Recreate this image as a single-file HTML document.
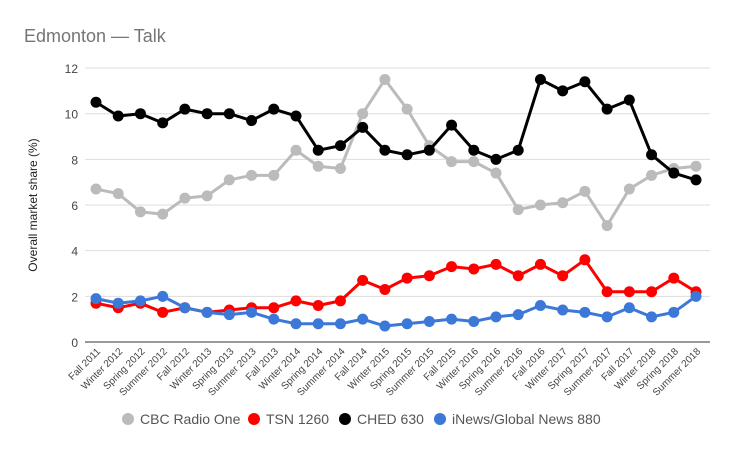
<!DOCTYPE html><html><head><style>body{margin:0;background:#fff}svg{display:block;font-family:"Liberation Sans",sans-serif}</style></head><body>
<svg id="c" width="730" height="451" xmlns="http://www.w3.org/2000/svg">
<text x="24" y="42" font-size="18" fill="#757575">Edmonton — Talk</text>
<text transform="translate(37,205) rotate(-90)" font-size="12" fill="#222" text-anchor="middle">Overall market share (%)</text>
</svg>
<script>
const s=document.getElementById('c'),NS='http://www.w3.org/2000/svg';
function el(t,a,txt){const e=document.createElementNS(NS,t);for(const k in a)e.setAttribute(k,a[k]);if(txt!=null)e.textContent=txt;s.appendChild(e);return e;}
const y=v=>342-v*22.83,x=i=>96+i*600/27;
for(let v=0;v<=12;v+=2){el('line',{x1:85,x2:710,y1:y(v),y2:y(v),stroke:v?'#ddd':'#333','stroke-width':1});el('text',{x:78,y:y(v)+5,'font-size':12,fill:'#444','text-anchor':'end'},v);}
const L=[];['2011'].forEach(()=>{});
const seasons=['Fall','Winter','Spring','Summer'];let yr=2011;
for(let i=0;i<28;i++){const s0=seasons[i%4];if(s0==='Winter')yr++;L.push(s0+' '+yr);}
L.forEach((t,i)=>el('text',{transform:`translate(${x(i)+5},352) rotate(-45)`,'font-size':10,fill:'#444','text-anchor':'end'},t));
const D=[
['#bbb',[6.7,6.5,5.7,5.6,6.3,6.4,7.1,7.3,7.3,8.4,7.7,7.6,10,11.5,10.2,8.6,7.9,7.9,7.4,5.8,6,6.1,6.6,5.1,6.7,7.3,7.6,7.7]],
['#f00',[1.7,1.5,1.7,1.3,1.5,1.3,1.4,1.5,1.5,1.8,1.6,1.8,2.7,2.3,2.8,2.9,3.3,3.2,3.4,2.9,3.4,2.9,3.6,2.2,2.2,2.2,2.8,2.2]],
['#000',[10.5,9.9,10,9.6,10.2,10,10,9.7,10.2,9.9,8.4,8.6,9.4,8.4,8.2,8.4,9.5,8.4,8,8.4,11.5,11,11.4,10.2,10.6,8.2,7.4,7.1]],
['#3c78d8',[1.9,1.7,1.8,2.0,1.5,1.3,1.2,1.3,1.0,0.8,0.8,0.8,1.0,0.7,0.8,0.9,1.0,0.9,1.1,1.2,1.6,1.4,1.3,1.1,1.5,1.1,1.3,2.0]]];
D.forEach(([c,d])=>{el('polyline',{points:d.map((v,i)=>x(i)+','+y(v)).join(' '),fill:'none',stroke:c,'stroke-width':3,'stroke-linejoin':'round'});d.forEach((v,i)=>el('circle',{cx:x(i),cy:y(v),r:5.5,fill:c}));});
const lg=[['#bbb','CBC Radio One',128],['#f00','TSN 1260',254],['#000','CHED 630',345],['#3c78d8','iNews/Global News 880',440]];
lg.forEach(([c,t,lx])=>{el('circle',{cx:lx,cy:419,r:6,fill:c});el('text',{x:lx+12,y:424,'font-size':14,fill:'#555'},t);});
</script></body></html>
